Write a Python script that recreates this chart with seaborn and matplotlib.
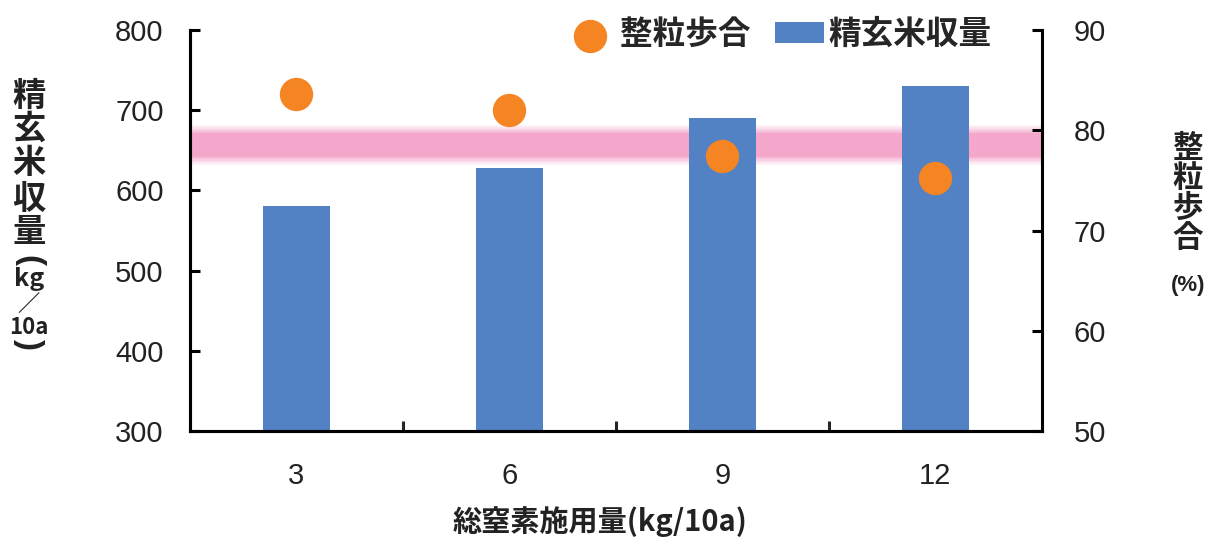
import matplotlib
matplotlib.use("Agg")
import matplotlib.pyplot as plt
import seaborn as sns
import pandas as pd

# ---------- data ----------
nitrogen = ["3", "6", "9", "12"]          # 総窒素施用量 (kg/10a)
yield_kg = [581, 628, 690, 730]           # 精玄米収量 (kg/10a)
grain_ratio = [83.6, 82.0, 77.4, 75.2]    # 整粒歩合 (%)
band_kg = [632, 682]                      # pink reference band (left axis units)

df = pd.DataFrame({"N": nitrogen, "yield": yield_kg, "ratio": grain_ratio})

BLUE = "#5282C4"
ORANGE = "#F58523"
PINK = "#F4A6CB"
CJK = ["Noto Sans CJK JP", "DejaVu Sans"]
LATIN = ["Liberation Sans", "DejaVu Sans"]

sns.set_theme(style="ticks")
plt.rcParams["font.family"] = ["Liberation Sans", "Noto Sans CJK JP", "DejaVu Sans"]

fig = plt.figure(figsize=(12.1, 5.39), dpi=100)
ax = fig.add_axes([0.157, 0.2004, 0.704, 0.7439])

# ---------- pink band (soft edges) ----------
lo, hi = band_kg
mid, half = (lo + hi) / 2, (hi - lo) / 2
for frac, a in [(1.0, 0.15), (0.9, 0.2), (0.8, 0.3), (0.7, 0.45), (0.6, 1.0)]:
    ax.axhspan(mid - half * frac, mid + half * frac, color=PINK, alpha=a, lw=0, zorder=1)

# ---------- bars ----------
sns.barplot(data=df, x="N", y="yield", color=BLUE, saturation=1, width=0.315,
            linewidth=0, edgecolor="none", ax=ax, zorder=2)
ax.set_ylim(300, 800)

# ---------- dots on right axis ----------
ax2 = ax.twinx()
sns.stripplot(data=df, x="N", y="ratio", color=ORANGE, size=24, linewidth=0,
              jitter=False, ax=ax2, zorder=3)
ax2.set_ylim(50, 90)
ax.set_xlim(-0.5, 3.5)

# ---------- axes styling ----------
for a in (ax, ax2):
    a.set_xlabel("")
    a.set_ylabel("")
    a.spines["top"].set_visible(False)
    for s in a.spines.values():
        s.set_linewidth(2.2)
        s.set_color("black")
ax.spines["right"].set_visible(False)

ax.set_yticks([300, 400, 500, 600, 700, 800])
ax2.set_yticks([50, 60, 70, 80, 90])
ax.set_xticks([0.5, 1.5, 2.5], [])
ax.set_xticks([0, 1, 2, 3], nitrogen, minor=True)

ax.tick_params(axis="y", direction="in", length=7, width=2.2, labelsize=21,
               pad=19, colors="black", labelcolor="#222222")
ax2.tick_params(axis="y", direction="in", length=7, width=2.2, labelsize=21,
                pad=23, colors="black", labelcolor="#222222")
ax.tick_params(axis="x", which="major", direction="in", length=7, width=2.2)
ax.tick_params(axis="x", which="minor", length=0, labelsize=21, pad=22,
               labelcolor="#222222")

# ---------- legend ----------
bar_handle = ax.containers[0].patches[0]
dot_handle = ax2.collections[0]
ax2.legend([dot_handle, bar_handle], ["整粒歩合", "精玄米収量"], ncol=2,
           loc="upper right", bbox_to_anchor=(0.941, 1.03), frameon=False,
           borderpad=0, borderaxespad=0, handlelength=1.5, handleheight=0.65,
           handletextpad=0.15, columnspacing=0.75,
           prop=dict(family=CJK, weight="bold", size=23.5))

# ---------- axis titles ----------
W, H = 1210, 539

def put(text, x, y, size, family=CJK, rot=0):
    fig.text(x / W, 1 - y / H, text, ha="center", va="center", fontsize=size,
             fontweight="bold", family=family, color="#222222", rotation=rot)

left_label = [("精", 96, 24, 0, CJK), ("玄", 129, 24, 0, CJK), ("米", 163, 24, 0, CJK),
              ("収", 199, 24, 0, CJK), ("量", 232, 24, 0, CJK), ("(", 261, 24, -90, LATIN),
              ("kg", 279, 18, 0, CJK), ("／", 304, 16, 0, CJK), ("10a", 327, 16, 0, CJK),
              (")", 344, 24, -90, LATIN)]
for t, y, s, r, fam in left_label:
    put(t, 29, y, s, family=fam, rot=r)

for t, y in [("整", 148), ("粒", 178), ("歩", 208), ("合", 238)]:
    put(t, 1188, y, 22)
put("(%)", 1188, 286, 16, family=LATIN)

put("総窒素施用量(kg/10a)", 600, 522, 21)

fig.savefig("out.png", dpi=100)
